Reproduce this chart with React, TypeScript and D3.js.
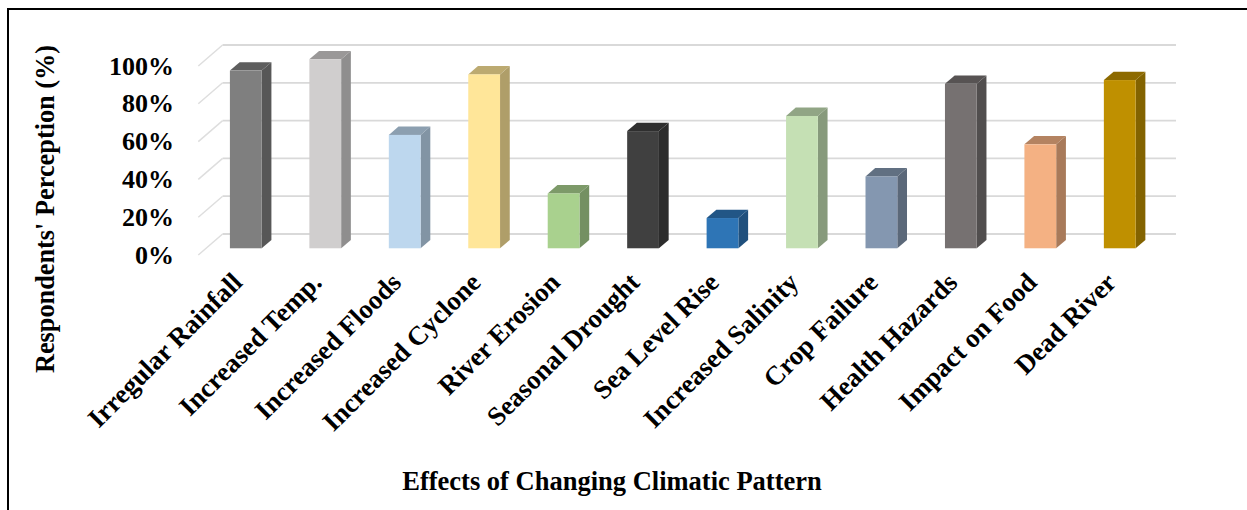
import React from 'react';
import * as d3 from 'd3';

const categories = [
  'Irregular Rainfall',
  'Increased Temp.',
  'Increased Floods',
  'Increased Cyclone',
  'River Erosion',
  'Seasonal Drought',
  'Sea Level Rise',
  'Increased Salinity',
  'Crop Failure',
  'Health Hazards',
  'Impact on Food',
  'Dead River',
];
const values = [94, 100, 60, 92, 29, 62, 16, 70, 38, 87, 55, 89];
const yTicks = [0, 20, 40, 60, 80, 100];
const palette = [
  '#7f7f7f', '#d0cece', '#bdd7ee', '#ffe699', '#a9d18e', '#404040',
  '#2e75b6', '#c5e0b4', '#8497b0', '#767171', '#f4b183', '#bf9000',
];

const FONT = '"Liberation Serif", "Times New Roman", serif';

export default function App() {
  const W = 1247;
  const H = 510;
  const x0 = 198.3;
  const x1 = 1151.7;
  const ddx = 24.3; // depth offset front->back
  const ddy = -21;
  const f1 = 0.32;
  const f2 = 0.72;

  const x = d3.scaleBand<string>().domain(categories).range([x0, x1]).padding(0);
  const y = d3.scaleLinear().domain([0, 100]).range([255, 66]);
  const bw = x.bandwidth();
  const barW = bw / 2.5;
  const bdx = (f2 - f1) * ddx;
  const bdy = (f2 - f1) * ddy;

  return (
    <svg
      width={W}
      height={H}
      style={{ position: 'absolute', left: 0, top: 0, background: '#fff' }}
      fontFamily={FONT}
      fontWeight="bold"
    >
      <rect x={0} y={0} width={W} height={H} fill="#fff" />
      <path d={`M8,${H + 5} V9 H${W + 5}`} fill="none" stroke="#000" strokeWidth={2} />

      {/* gridlines: back wall and side wall */}
      {yTicks.map((t) => (
        <g key={'g' + t}>
          <line
            x1={x0 + ddx}
            x2={x1 + ddx}
            y1={y(t) + ddy}
            y2={y(t) + ddy}
            stroke="#d9d9d9"
            strokeWidth={1.8}
          />
          <line
            x1={x0}
            x2={x0 + ddx}
            y1={y(t)}
            y2={y(t) + ddy}
            stroke="#dedede"
            strokeWidth={1.5}
          />
        </g>
      ))}

      {/* y tick labels */}
      {yTicks.map((t) => (
        <text key={'t' + t} x={174} y={y(t) + 8.6} textAnchor="end" fontSize={26} fill="#000">
          {t}%
        </text>
      ))}

      {/* bars */}
      {categories.map((c, i) => {
        const v = values[i];
        const front = d3.color(palette[i])!;
        const side = front.darker(1.05).formatHex();
        const top = front.darker(0.85).formatHex();
        const fx = (x(c) as number) + (bw - barW) / 2 + f1 * ddx;
        const fb = y(0) + f1 * ddy;
        const ft = y(v) + f1 * ddy;
        const sidePts = [
          [fx + barW, fb],
          [fx + barW, ft],
          [fx + barW + bdx, ft + bdy],
          [fx + barW + bdx, fb + bdy],
        ];
        const topPts = [
          [fx, ft],
          [fx + barW, ft],
          [fx + barW + bdx, ft + bdy],
          [fx + bdx, ft + bdy],
        ];
        return (
          <g key={c}>
            <polygon points={sidePts.map((p) => p.join(',')).join(' ')} fill={side} />
            <polygon points={topPts.map((p) => p.join(',')).join(' ')} fill={top} />
            <rect x={fx} y={ft} width={barW} height={fb - ft} fill={front.formatHex()} />
          </g>
        );
      })}

      {/* category labels */}
      {categories.map((c) => {
        const cx = (x(c) as number) + bw / 2 + f1 * ddx - 2;
        const cy = 284;
        return (
          <text
            key={'l' + c}
            x={cx}
            y={cy}
            transform={`rotate(-45 ${cx} ${cy})`}
            textAnchor="end"
            fontSize={26.8}
            fill="#000"
          >
            {c}
          </text>
        );
      })}

      {/* axis titles */}
      <text
        x={0}
        y={0}
        transform="translate(54 209) rotate(-90)"
        textAnchor="middle"
        fontSize={26.3}
        fill="#000"
      >
        Respondents' Perception (%)
      </text>
      <text x={612} y={490} textAnchor="middle" fontSize={26.5} fill="#000">
        Effects of Changing Climatic Pattern
      </text>
    </svg>
  );
}
